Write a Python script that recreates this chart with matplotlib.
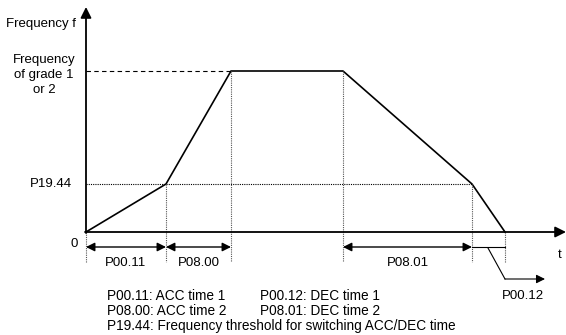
import matplotlib.pyplot as plt

plt.rcParams["font.family"] = ["Liberation Sans", "DejaVu Sans"]

# speed profile (time, frequency) in diagram units
t_pts = [0, 80, 145, 257, 386, 419]
f_pts = [0, 48, 161, 161, 48, 0]

f_grade = 161
f_thresh = 48

# interval arrows: (start, end, label)
intervals = [(0, 80, "P00.11"), (80, 145, "P08.00"), (257, 386, "P08.01")]

legend_lines = [
    ("P00.11: ACC time 1", "P00.12: DEC time 1"),
    ("P08.00: ACC time 2", "P08.01: DEC time 2"),
    ("P19.44: Frequency threshold for switching ACC/DEC time", None),
]


def main():
    fig = plt.figure(figsize=(5.66, 3.35), dpi=100)
    ax = fig.add_axes([0, 0, 1, 1])
    ax.set_xlim(-86, 480)
    ax.set_ylim(-103, 232)
    ax.axis("off")

    fs = 9.5
    dot = (0, (1, 1))

    # axes with arrows
    ax.annotate("", xy=(0, 225), xytext=(0, -1),
                arrowprops=dict(arrowstyle="-|>", color="black", lw=1.3,
                                mutation_scale=16, shrinkA=0, shrinkB=0))
    ax.annotate("", xy=(480, 0), xytext=(-1, 0),
                arrowprops=dict(arrowstyle="-|>", color="black", lw=1.3,
                                mutation_scale=16, shrinkA=0, shrinkB=0))

    # curve
    ax.plot(t_pts, f_pts, color="black", lw=1.2)

    # reference lines
    ax.plot([0, t_pts[2]], [f_grade, f_grade], color="black", lw=0.8,
            linestyle=(0, (4, 3)))
    ax.plot([0, t_pts[4]], [f_thresh, f_thresh], color="black", lw=0.8,
            linestyle=dot)

    # vertical guides
    for t, f in zip(t_pts, f_pts):
        ax.plot([t, t], [f, -30], color="#555555", lw=0.8, linestyle=dot)

    # interval arrows
    for a, b, lab in intervals:
        ax.annotate("", xy=(b, -15), xytext=(a, -15),
                    arrowprops=dict(arrowstyle="<|-|>", color="black", lw=1.0,
                                    mutation_scale=13, shrinkA=0, shrinkB=0))
        ax.text((a + b) / 2, -31, lab, ha="center", va="center", fontsize=fs)

    # P00.12 pointer
    ax.plot([t_pts[4], t_pts[5]], [-15, -15], color="black", lw=0.8)
    ax.plot([402, 419], [-16, -47], color="black", lw=0.8)
    ax.annotate("", xy=(459, -47), xytext=(419, -47),
                arrowprops=dict(arrowstyle="-|>", color="black", lw=0.8,
                                mutation_scale=13, shrinkA=0, shrinkB=0))
    ax.text(437, -64, "P00.12", ha="center", va="center", fontsize=fs)

    # axis labels
    ax.text(-10, 208, "Frequency f", ha="right", va="center", fontsize=fs)
    ax.text(-42, 157, "Frequency\nof grade 1\nor 2", ha="center", va="center",
            fontsize=fs, linespacing=1.35)
    ax.text(-14, f_thresh, "P19.44", ha="right", va="center", fontsize=fs)
    ax.text(-8, -12, "0", ha="right", va="center", fontsize=fs)
    ax.text(474, -23, "t", ha="center", va="center", fontsize=fs)

    # notes
    for i, (left, right) in enumerate(legend_lines):
        y = -64 - 15 * i
        ax.text(21, y, left, ha="left", va="center", fontsize=9.8)
        if right:
            ax.text(174, y, right, ha="left", va="center", fontsize=9.8)

    fig.savefig("out.png", dpi=100)


if __name__ == "__main__":
    main()
